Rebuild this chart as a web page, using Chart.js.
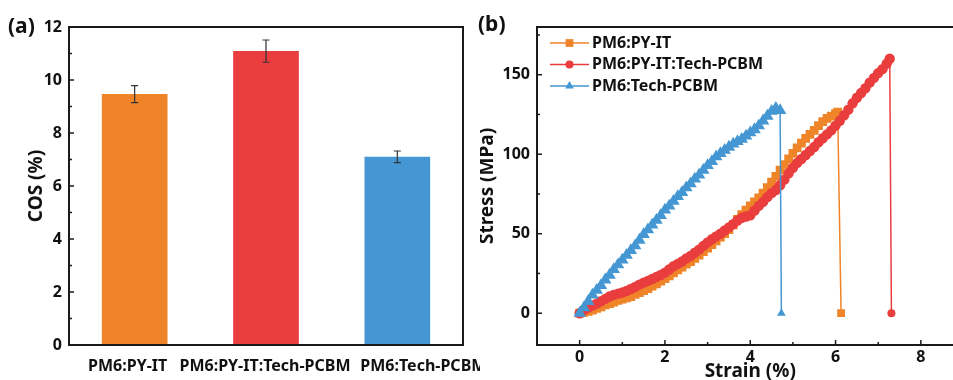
<!DOCTYPE html>
<html>
<head>
<meta charset="utf-8">
<script src="https://cdn.jsdelivr.net/npm/chart.js@4.4.0/dist/chart.umd.min.js"></script>
<style>
  html, body { margin: 0; padding: 0; background: #fff; }
  #wrap { position: relative; width: 953px; height: 380px; overflow: hidden; }
  #boxA { position: absolute; left: 0; top: 0; width: 480px; height: 380px; }
  #boxB { position: absolute; left: 480px; top: 0; width: 500px; height: 380px; }
  .tag { position: absolute; font: bold 21px 'Noto Sans', sans-serif; line-height: 21px; color: #111; }
</style>
</head>
<body>
<div id="wrap">
  <div id="boxA"><canvas id="chartA" width="480" height="380"></canvas></div>
  <div id="boxB"><canvas id="chartB" width="500" height="380"></canvas></div>
  <div class="tag" style="left:8px; top:15px;">(a)</div>
  <div class="tag" style="left:478px; top:13px;">(b)</div>
</div>
<script>
// (a) COS bar chart
const categories = ['PM6:PY-IT', 'PM6:PY-IT:Tech-PCBM', 'PM6:Tech-PCBM'];
const cosValues = [9.47, 11.09, 7.10];
const cosErrors = [0.32, 0.42, 0.22];
const cosTicks = [0, 2, 4, 6, 8, 10, 12];

// (b) stress-strain curves
const seriesNames = ['PM6:PY-IT', 'PM6:PY-IT:Tech-PCBM', 'PM6:Tech-PCBM'];
const strainTicks = [0, 2, 4, 6, 8];
const stressTicks = [0, 50, 100, 150];

const strainPY = [0, 0.1, 0.2, 0.3, 0.4, 0.5, 0.6, 0.7, 0.8, 0.9,
  1.0, 1.1, 1.2, 1.3, 1.4, 1.5, 1.6, 1.7, 1.8, 1.9,
  2.0, 2.1, 2.2, 2.3, 2.4, 2.5, 2.6, 2.7, 2.8, 2.9,
  3.0, 3.1, 3.2, 3.3, 3.4, 3.5, 3.6, 3.7, 3.8, 3.9,
  4.0, 4.1, 4.2, 4.3, 4.4, 4.5, 4.6, 4.7, 4.8, 4.9,
  5.0, 5.1, 5.2, 5.3, 5.4, 5.5, 5.6, 5.7, 5.8, 5.9,
  6.0, 6.05, 6.13];
const stressPY = [0, 0.5, 1.2, 2, 3, 4, 5.2, 6, 7, 8,
  8.8, 9.7, 10.5, 11.8, 13, 14.2, 15.5, 17, 18.5, 20.2,
  21.8, 23.5, 25.3, 27.2, 29, 30.8, 32.5, 34.5, 36.5, 38.8,
  41, 43.2, 45.5, 47.8, 50, 52.5, 55.5, 59, 62, 64.8,
  67.5, 70, 72.5, 75.5, 79, 82.5, 86, 90, 93.5, 97,
  100.5, 104, 107, 110, 112.5, 115, 118, 120.5, 122.5, 124,
  125.5, 126.5, 0];

const strainMix = [0, 0.1, 0.2, 0.3, 0.4, 0.5, 0.6, 0.7, 0.8, 0.9,
  1.0, 1.1, 1.2, 1.3, 1.4, 1.5, 1.6, 1.7, 1.8, 1.9,
  2.0, 2.1, 2.2, 2.3, 2.4, 2.5, 2.6, 2.7, 2.8, 2.9,
  3.0, 3.1, 3.2, 3.3, 3.4, 3.5, 3.6, 3.7, 3.8, 3.9,
  4.0, 4.1, 4.2, 4.3, 4.4, 4.5, 4.6, 4.7, 4.8, 4.9,
  5.0, 5.1, 5.2, 5.3, 5.4, 5.5, 5.6, 5.7, 5.8, 5.9,
  6.0, 6.1, 6.2, 6.3, 6.4, 6.5, 6.6, 6.7, 6.8, 6.9,
  7.0, 7.1, 7.2, 7.27, 7.31];
const stressMix = [0, 2, 3.5, 4.8, 6, 7.5, 9, 10.5, 11.5, 12.3,
  13, 14, 15.2, 16.5, 18, 19.2, 20.3, 21.5, 22.8, 24,
  25.5, 27.5, 29.5, 31, 32.5, 34.5, 36, 38, 40, 42.3,
  44.5, 46.5, 48.3, 50, 52, 54, 56, 58.3, 60, 60.8,
  61.5, 64.5, 67.5, 70, 73, 75.5, 77.5, 80.5, 84, 88,
  91.5, 94.5, 97, 99.5, 102, 104.5, 107.5, 110, 112.5, 115,
  118, 121, 124.5, 128, 132, 135.5, 138.5, 141.5, 145, 148,
  151, 153.5, 157, 160, 0];

const strainTech = [0, 0.1, 0.2, 0.3, 0.4, 0.5, 0.6, 0.7, 0.8, 0.9,
  1.0, 1.1, 1.2, 1.3, 1.4, 1.5, 1.6, 1.7, 1.8, 1.9,
  2.0, 2.1, 2.2, 2.3, 2.4, 2.5, 2.6, 2.7, 2.8, 2.9,
  3.0, 3.1, 3.2, 3.3, 3.4, 3.5, 3.6, 3.7, 3.8, 3.9,
  4.0, 4.1, 4.2, 4.3, 4.4, 4.5, 4.6, 4.7, 4.73];
const stressTech = [0, 3.5, 7.5, 11.5, 14.5, 17.5, 21, 24, 27.5, 30.5,
  33.5, 36.5, 39.5, 42.5, 46, 49.5, 52.5, 55.5, 58.5, 61.5,
  65, 67.5, 70.5, 73.5, 76, 79, 81.5, 84.5, 87, 90,
  93, 95.5, 98.5, 100.5, 102.5, 104.5, 106.5, 108, 109.5, 111.5,
  113.5, 115.5, 118, 121, 124, 127, 129, 127.5, 0];

const colors = ['#EF8429', '#E93D3E', '#4497D2'];
const markers = ['rect', 'circle', 'triangle'];
const markerSize = [5.5, 4, 5];      // legend + end markers
const bandSize = [6.2, 5.2, 7.2];    // dense markers along the curves
const labelShift = [-7, -1, 26];     // x-label offsets in panel (a)

const ink = '#111';
const fontFam = "'Noto Sans', sans-serif";
const tickFont = { family: fontFam, size: 16, weight: 'bold' };
const titleFont = { family: fontFam, size: 19, weight: 'bold', lineHeight: 0.85 };

// box around plot area + inward ticks (minor ticks halfway between majors)
const frame = {
  id: 'frame',
  afterDraw(chart, args, opts) {
    const { ctx, chartArea: a } = chart;
    ctx.save();
    ctx.strokeStyle = '#1a1a1a';
    ctx.lineWidth = 1.5;
    (opts.axes || []).forEach(id => {
      const s = chart.scales[id];
      const vals = s.ticks.map(t => t.value);
      const step = vals[1] - vals[0];
      const minors = [];
      for (let i = -1; i < vals.length; i++) {
        const m = (i < 0 ? vals[0] - step : vals[i]) + step / 2;
        if (m > s.min && m < s.max) minors.push(m);
      }
      const mark = (v, len) => {
        const p = s.getPixelForValue(v);
        ctx.beginPath();
        if (s.isHorizontal()) { ctx.moveTo(p, a.bottom); ctx.lineTo(p, a.bottom - len); }
        else { ctx.moveTo(a.left, p); ctx.lineTo(a.left + len, p); }
        ctx.stroke();
      };
      vals.forEach(v => mark(v, 5));
      minors.forEach(v => mark(v, 3));
    });
    ctx.lineWidth = 2;
    ctx.strokeRect(a.left, a.top, a.right - a.left, a.bottom - a.top);
    ctx.restore();
  }
};

const errorBars = {
  id: 'errorBars',
  afterDatasetsDraw(chart) {
    const { ctx } = chart;
    const y = chart.scales.y;
    const meta = chart.getDatasetMeta(0);
    ctx.save();
    ctx.strokeStyle = '#333';
    ctx.lineWidth = 1.2;
    meta.data.forEach((bar, i) => {
      const top = y.getPixelForValue(cosValues[i] + cosErrors[i]);
      const bot = y.getPixelForValue(cosValues[i] - cosErrors[i]);
      ctx.beginPath();
      ctx.moveTo(bar.x, top); ctx.lineTo(bar.x, bot);
      ctx.moveTo(bar.x - 3.5, top); ctx.lineTo(bar.x + 3.5, top);
      ctx.moveTo(bar.x - 3.5, bot); ctx.lineTo(bar.x + 3.5, bot);
      ctx.stroke();
    });
    ctx.restore();
  }
};

// category labels under the bars (not all centred in the original)
const catLabels = {
  id: 'catLabels',
  afterDraw(chart) {
    const { ctx, chartArea: a } = chart;
    const x = chart.scales.x;
    ctx.save();
    ctx.font = 'bold 16px ' + fontFam;
    ctx.fillStyle = ink;
    ctx.textAlign = 'center';
    ctx.textBaseline = 'middle';
    categories.forEach((c, i) => {
      ctx.fillText(c, x.getPixelForValue(i) + labelShift[i], a.bottom + 21);
    });
    ctx.restore();
  }
};

function drawMarker(ctx, style, r, x, y) {
  ctx.beginPath();
  if (style === 'rect') {
    const h = r * Math.SQRT1_2;
    ctx.rect(x - h, y - h, 2 * h, 2 * h);
  } else if (style === 'triangle') {
    ctx.moveTo(x, y - r);
    ctx.lineTo(x + r * 0.866, y + r * 0.5);
    ctx.lineTo(x - r * 0.866, y + r * 0.5);
    ctx.closePath();
  } else {
    ctx.arc(x, y, r, 0, Math.PI * 2);
  }
  ctx.fill();
}

const lineLegend = {
  id: 'lineLegend',
  afterDraw(chart) {
    const { ctx } = chart;
    ctx.save();
    ctx.font = 'bold 16px ' + fontFam;
    ctx.textBaseline = 'middle';
    seriesNames.forEach((name, i) => {
      const y = 43 + i * 21.5;
      ctx.strokeStyle = colors[i];
      ctx.fillStyle = colors[i];
      ctx.lineWidth = 1.5;
      ctx.beginPath();
      ctx.moveTo(70, y); ctx.lineTo(109, y);
      ctx.stroke();
      drawMarker(ctx, markers[i], markerSize[i], 89.5, y);
      ctx.fillStyle = ink;
      ctx.fillText(name, 112, y);
    });
    ctx.restore();
  }
};

new Chart(document.getElementById('chartA'), {
  type: 'bar',
  data: {
    labels: categories,
    datasets: [{
      data: cosValues,
      backgroundColor: colors,
      borderWidth: 0,
      barPercentage: 0.5,
      categoryPercentage: 1
    }]
  },
  options: {
    responsive: false,
    animation: false,
    layout: { padding: { top: 27, right: 17, left: 0, bottom: 0 } },
    plugins: {
      legend: { display: false },
      tooltip: { enabled: false },
      frame: { axes: ['y'] }
    },
    scales: {
      x: {
        grid: { display: false, drawTicks: false },
        border: { display: false },
        ticks: { display: false },
        afterFit: s => { s.height = 35; }
      },
      y: {
        min: 0, max: 12,
        grid: { display: false, drawTicks: false },
        border: { display: false },
        afterBuildTicks: s => { s.ticks = cosTicks.map(v => ({ value: v })); },
        ticks: { font: tickFont, color: ink, padding: 7 },
        title: { display: true, text: 'COS (%)', font: titleFont, color: ink, padding: { top: 29, bottom: 0 } },
        afterFit: s => { s.width = 69; }
      }
    }
  },
  plugins: [frame, errorBars, catLabels]
});

const curves = [[strainPY, stressPY], [strainMix, stressMix], [strainTech, stressTech]];

new Chart(document.getElementById('chartB'), {
  type: 'line',
  data: {
    datasets: curves.map(([xs, ys], i) => ({
      label: seriesNames[i],
      data: xs.map((x, k) => ({ x: x, y: ys[k] })),
      borderColor: colors[i],
      backgroundColor: colors[i],
      borderWidth: 1.5,
      pointStyle: markers[i],
      pointRadius: c => (c.dataIndex === xs.length - 1 ? markerSize[i] : bandSize[i]),
      pointBorderWidth: 0,
      tension: 0,
      order: 3 - i
    }))
  },
  options: {
    responsive: false,
    animation: false,
    layout: { padding: { top: 27, right: 16.5, left: 0, bottom: 0 } },
    plugins: {
      legend: { display: false },
      tooltip: { enabled: false },
      frame: { axes: ['x', 'y'] }
    },
    scales: {
      x: {
        type: 'linear',
        min: -1, max: 9,
        grid: { display: false, drawTicks: false },
        border: { display: false },
        afterBuildTicks: s => { s.ticks = strainTicks.map(v => ({ value: v })); },
        ticks: { font: tickFont, color: ink, padding: 3 },
        title: { display: true, text: 'Strain (%)', font: titleFont, color: ink, padding: 0 },
        afterFit: s => { s.height = 35; }
      },
      y: {
        min: -20, max: 180,
        grid: { display: false, drawTicks: false },
        border: { display: false },
        afterBuildTicks: s => { s.ticks = stressTicks.map(v => ({ value: v })); },
        ticks: { font: tickFont, color: ink, padding: 7 },
        title: { display: true, text: 'Stress (MPa)', font: titleFont, color: ink, padding: 0 },
        afterFit: s => { s.width = 57; }
      }
    }
  },
  plugins: [frame, lineLegend]
});
</script>
</body>
</html>
